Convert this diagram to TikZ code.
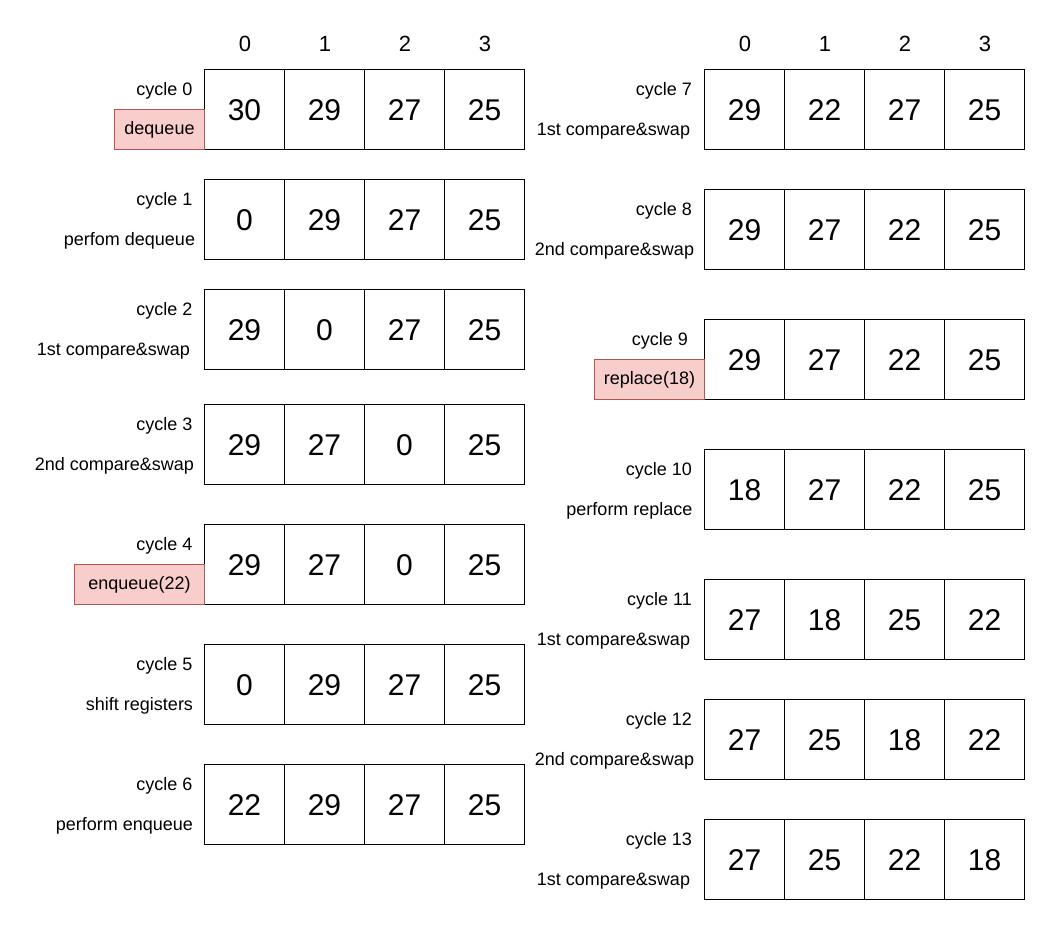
\documentclass[tikz,border=0pt]{standalone}
\usepackage{fontspec}
\setmainfont{Liberation Sans}
\begin{document}
\begin{tikzpicture}[x=1pt,y=-1pt,
  cell/.style={draw=black,line width=0.9pt,minimum width=80pt,minimum height=80pt,
    inner sep=0pt,font=\fontsize{30}{30}\selectfont,text height=21.5pt,text depth=0pt},
  hdr/.style={anchor=base,inner sep=0pt,font=\fontsize{22}{22}\selectfont},
  lbl/.style={anchor=base east,inner sep=0pt,font=\fontsize{18}{18}\selectfont},
  lblc/.style={anchor=base,inner sep=0pt,font=\fontsize{18}{18}\selectfont},
  opbox/.style={draw={rgb,255:red,184;green,84;blue,80},fill={rgb,255:red,248;green,206;blue,204},
    line width=0.9pt,inner sep=0pt,font=\fontsize{18}{18}\selectfont,
    text height=13pt,text depth=4pt,minimum height=40pt}
]
\useasboundingbox (0,0) rectangle (1049,924);

% one register row: name, left x, top y, list of four values
\newcommand\regrow[4]{%
  \foreach \v [count=\k from 0] in {#4}{\node[cell] (#1-\k) at (#2+40+80*\k,#3+40) {\v};}}

% column indices
\foreach \i/\xx in {0/245,1/325,2/405,3/485}{\node[hdr] (hl\i) at (\xx,51.5) {\i};}
\foreach \i/\xx in {0/745,1/825,2/905,3/985}{\node[hdr] (hr\i) at (\xx,51.5) {\i};}

% left column
\regrow{c0}{204.5}{69.5}{30,29,27,25}
\regrow{c1}{204.5}{179.5}{0,29,27,25}
\regrow{c2}{204.5}{289.5}{29,0,27,25}
\regrow{c3}{204.5}{404.5}{29,27,0,25}
\regrow{c4}{204.5}{524.5}{29,27,0,25}
\regrow{c5}{204.5}{644.5}{0,29,27,25}
\regrow{c6}{204.5}{764.5}{22,29,27,25}

% right column
\regrow{c7}{704.5}{69.5}{29,22,27,25}
\regrow{c8}{704.5}{189.5}{29,27,22,25}
\regrow{c9}{704.5}{319.5}{29,27,22,25}
\regrow{c10}{704.5}{449.5}{18,27,22,25}
\regrow{c11}{704.5}{579.5}{27,18,25,22}
\regrow{c12}{704.5}{699.5}{27,25,18,22}
\regrow{c13}{704.5}{819.5}{27,25,22,18}

% operation boxes
\node[opbox,minimum width=90pt] (op0) at (159.5,129.5) {dequeue};
\node[opbox,minimum width=130pt] (op4) at (139.5,584.5) {enqueue(22)};
\node[opbox,minimum width=110pt] (op9) at (649.5,379.5) {replace(18)};

% left labels
\node[lbl] (t0) at (192.5,95) {cycle 0};
\node[lbl] (t1) at (192.5,205) {cycle 1};
\node[lblc] (d1) at (129.5,245) {perfom dequeue};
\node[lbl] (t2) at (192.5,315) {cycle 2};
\node[lblc] (d2) at (113.5,355) {1st compare\&swap};
\node[lbl] (t3) at (192.5,430) {cycle 3};
\node[lblc] (d3) at (114.5,470) {2nd compare\&swap};
\node[lbl] (t4) at (192.5,550) {cycle 4};
\node[lbl] (t5) at (192.5,670) {cycle 5};
\node[lblc] (d5) at (139.5,710) {shift registers};
\node[lbl] (t6) at (192.5,790) {cycle 6};
\node[lblc] (d6) at (124.5,830) {perform enqueue};

% right labels
\node[lbl] (t7) at (692,95) {cycle 7};
\node[lblc] (d7) at (613.5,135) {1st compare\&swap};
\node[lbl] (t8) at (692,215) {cycle 8};
\node[lblc] (d8) at (614.5,255) {2nd compare\&swap};
\node[lbl] (t9) at (688,345) {cycle 9};
\node[lbl] (t10) at (692,475) {cycle 10};
\node[lblc] (d10) at (629.5,515) {perform replace};
\node[lbl] (t11) at (692,605) {cycle 11};
\node[lblc] (d11) at (613.5,645) {1st compare\&swap};
\node[lbl] (t12) at (692,725) {cycle 12};
\node[lblc] (d12) at (614.5,765) {2nd compare\&swap};
\node[lbl] (t13) at (692,845) {cycle 13};
\node[lblc] (d13) at (613.5,885) {1st compare\&swap};
\end{tikzpicture}
\end{document}
